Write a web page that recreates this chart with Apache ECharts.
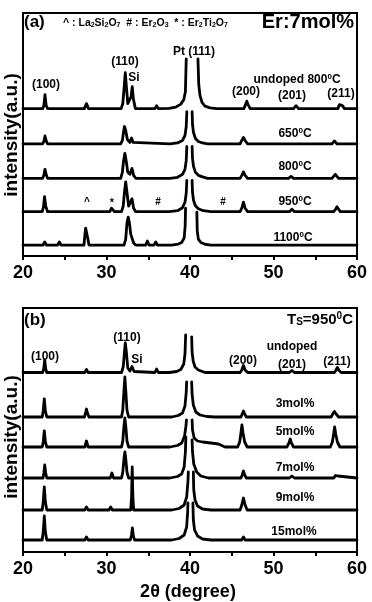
<!DOCTYPE html>
<html>
<head>
<meta charset="utf-8">
<script src="https://cdn.jsdelivr.net/npm/echarts@6/dist/echarts.min.js"></script>
<style>
  html, body { margin: 0; padding: 0; background: #fff; }
  #chart { width: 372px; height: 602px; }
</style>
</head>
<body>
<div id="chart"></div>
<script>
// x ticks (2theta, degree)
const xTicks = [20, 30, 40, 50, 60];

// (a) Er:7mol%, different annealing temperatures  [2theta, intensity a.u. (stacked)]
const a_undoped = [
  [20,148],[22.35,148],[22.5,151],[22.63,162],[22.78,151],[22.95,148],
  [27.35,148],[27.6,153],[27.85,148],
  [31.75,148],[31.95,153],[32.1,168],[32.25,184],[32.4,168],[32.55,153],[32.75,151],[32.95,160],[33.08,170],[33.22,158],[33.45,148],
  [35.8,148],[36.0,151],[36.2,148],
  [37.5,148.3],[38.3,149.5],[38.9,152.5],[39.25,157],[39.45,165],[39.55,198],[40.3,'-'],
  [40.95,198],[41.05,172],[41.2,161],[41.45,154],[41.8,150.5],[42.4,148.7],[43.2,148],
  [44.3,148],[44.5,150],[44.7,148],
  [46.45,148],[46.65,152],[46.8,155.5],[46.95,152],[47.2,148],
  [52.4,148],[52.7,151],[53.0,148],
  [57.7,148],[57.9,152],[58.05,154],[58.25,151],[58.5,148],[60,148]
];
const a_650 = [
  [20,112.5],[22.35,112.5],[22.5,115],[22.63,120.5],[22.8,115],[22.95,112.5],
  [27.4,112.5],[27.6,114],[27.8,112.5],
  [31.7,112.5],[31.9,116],[32.05,125],[32.15,130],[32.3,126],[32.5,117],[32.8,114],[33.0,118.5],[33.2,114],[33.4,112.5],
  [37.6,112.5],[38.5,113.5],[39.1,116],[39.4,121],[39.55,130],[39.62,145],[39.95,'-'],
  [40.25,145],[40.3,132],[40.42,124],[40.65,118],[41.0,115],[41.5,113.5],[42.1,112.5],
  [46.0,112.5],[46.2,116],[46.4,119],[46.6,116],[46.9,112.5],
  [51.8,112.5],[52.0,114.5],[52.3,112.5],
  [57.0,112.5],[57.3,115.5],[57.6,112.5],[60,112.5]
];
const a_800 = [
  [20,78],[22.35,78],[22.5,81],[22.63,87],[22.8,81],[22.95,78],
  [27.4,78],[27.6,79.5],[27.8,78],
  [31.7,78],[31.9,84],[32.05,96],[32.2,103],[32.35,96],[32.55,84],[32.8,82],[33.05,88],[33.25,81],[33.5,78],
  [37.6,78],[38.5,79],[39.1,82],[39.4,87],[39.55,96],[39.62,110],[39.95,'-'],
  [40.25,110],[40.3,98],[40.42,90],[40.65,84],[41.0,81],[41.5,79.5],[42.1,78],
  [46.0,78],[46.2,81],[46.4,84.5],[46.6,81],[46.9,78],
  [51.8,78],[52.1,80],[52.4,78],
  [57.0,78],[57.2,80],[57.4,82],[57.6,80],[57.8,78],[60,78]
];
const a_950 = [
  [20,44.5],[22.3,44.5],[22.45,49],[22.58,59.5],[22.72,50],[22.95,44.5],
  [27.4,44.5],[27.6,46.5],[27.8,44.5],
  [30.4,44.5],[30.6,48],[30.75,49.5],[30.95,44.5],
  [31.8,44.5],[32.0,50],[32.15,64],[32.3,74.5],[32.45,64],[32.65,50],[32.85,48],[33.05,57.5],[33.25,48],[33.5,44.5],
  [35.8,44.5],[36.0,46.5],[36.2,44.5],
  [37.5,44.5],[38.5,45.5],[39.1,48.5],[39.4,54],[39.55,63],[39.62,76],[39.95,'-'],
  [40.25,76],[40.3,64],[40.42,56],[40.65,50.5],[41.0,47.5],[41.6,45.5],[42.5,44.5],
  [43.8,44.5],[44.0,46],[44.2,44.5],
  [46.0,44.5],[46.2,48],[46.4,54],[46.6,48],[46.9,44.5],
  [51.9,44.5],[52.2,47],[52.5,44.5],
  [57.2,44.5],[57.45,47],[57.6,49.5],[57.8,47],[58.0,44.5],[60,44.5]
];
const a_1100 = [
  [20,11],[22.4,11],[22.6,14],[22.8,11],
  [24.15,11],[24.35,14],[24.55,11],
  [27.3,11],[27.4,20],[27.5,28],[27.65,28],[27.75,18],[27.9,11],
  [30.0,11],[30.2,12.5],[30.4,11],
  [32.1,11],[32.3,17],[32.45,33],[32.6,39],[32.75,33],[32.9,22],[33.05,21],[33.25,13],[33.5,11],
  [34.7,11],[34.9,15],[35.1,11],
  [35.7,11],[35.9,14],[36.1,11],
  [37.8,11],[38.6,12],[39.0,13.5],[39.3,18],[39.42,30],[39.47,48],[40.1,'-'],
  [40.82,44],[40.87,25],[41.0,17],[41.3,13.5],[41.8,11.8],[42.5,11],
  [44.3,11],[44.5,12.5],[44.7,11],
  [46.8,11],[47.0,13],[47.2,11],
  [57.1,11],[57.3,13],[57.5,11],
  [58.1,11],[58.3,12],[58.5,11],[60,11]
];

// (b) Ts=950C, different Er contents
const b_undoped = [
  [20,179.5],[22.35,179.5],[22.48,183],[22.6,192],[22.72,183],[22.85,179.5],
  [27.4,179.5],[27.6,182.5],[27.8,179.5],
  [31.8,179.5],[32.0,185],[32.15,200],[32.25,209],[32.38,200],[32.55,184],[32.8,181],[33.05,185.5],[33.3,180.5],[33.5,179.5],
  [35.8,179.5],[36.0,183],[36.2,179.5],
  [37.5,179.5],[38.4,180.5],[38.9,182.5],[39.25,188],[39.4,198],[39.48,217],[39.85,'-'],
  [40.2,215],[40.25,200],[40.38,191],[40.6,185],[41.0,182],[41.8,179.5],
  [44.3,179.5],[44.5,181],[44.7,179.5],
  [46.0,179.5],[46.2,182],[46.4,186.5],[46.6,182],[46.9,179.5],
  [51.9,179.5],[52.2,181.5],[52.5,179.5],
  [57.3,179.5],[57.5,182],[57.65,184.5],[57.85,181.5],[58.1,179.5],[60,179.5]
];
const b_3mol = [
  [20,135],[22.3,135],[22.42,141],[22.55,153],[22.68,141],[22.85,135],
  [27.35,135],[27.5,139],[27.6,143],[27.72,139],[27.9,135],
  [31.8,135],[31.95,142],[32.08,160],[32.2,175],[32.32,160],[32.45,142],[32.65,135],
  [37.8,135],[38.6,136.5],[39.1,139],[39.4,146],[39.55,160],[39.6,170],[39.9,'-'],
  [40.2,170],[40.25,158],[40.4,147],[40.7,140],[41.2,137],[42,135.5],[43,135],
  [46.1,135],[46.25,138],[46.4,141],[46.55,138],[46.75,135],
  [51.9,135],[52.1,136.5],[52.3,135],
  [56.9,135],[57.1,138],[57.3,140.5],[57.5,138],[57.8,135],[60,135]
];
const b_5mol = [
  [20,105],[22.3,105],[22.42,110],[22.55,121],[22.68,110],[22.85,105],
  [27.4,105],[27.6,111],[27.8,105],
  [29.0,105],[29.2,107],[29.4,105],
  [31.8,105],[31.95,111],[32.08,125],[32.2,134],[32.32,125],[32.45,111],[32.65,105],
  [37.6,105],[38.5,106.5],[39.0,109],[39.35,116],[39.5,125],[39.58,132],[39.9,'-'],
  [40.25,132],[40.3,122],[40.5,114],[40.9,111],[41.5,110],[42.5,109],[43.4,108],[44.2,105],
  [45.7,105],[45.95,110],[46.1,119],[46.22,127],[46.35,119],[46.55,110],[46.85,105],
  [51.6,105],[51.85,109],[52.0,113],[52.15,109],[52.4,105],
  [56.8,105],[57.05,110],[57.2,118],[57.32,125],[57.45,118],[57.65,110],[57.95,105],[60,105]
];
const b_7mol = [
  [20,74],[22.4,74],[22.5,79],[22.6,87],[22.72,79],[22.85,74],
  [27.4,74],[27.6,76],[27.8,74],
  [30.45,74],[30.65,79],[30.85,74],
  [31.8,74],[31.95,80],[32.08,92],[32.2,100],[32.32,92],[32.45,80],[32.65,74],
  [35.8,74],[36.0,75.5],[36.2,74],
  [37.6,74],[38.5,75.5],[39.0,78],[39.3,85],[39.45,100],[39.5,115],[39.85,'-'],
  [40.25,112],[40.3,100],[40.45,88],[40.8,80],[41.3,76],[42.2,74],
  [46.1,74],[46.25,77],[46.4,81],[46.55,77],[46.75,74],
  [51.9,74],[52.2,76],[52.5,74],
  [57.2,74],[57.45,76.5],[57.55,78],[57.7,76],[57.9,74],[60,74]
];
const b_9mol = [
  [20,42],[22.3,42],[22.42,50],[22.55,65],[22.68,50],[22.85,42],
  [27.4,42],[27.6,45],[27.8,42],
  [30.3,42],[30.5,45],[30.7,42],
  [31.85,42],[32.0,44],[32.15,42],
  [32.9,42],[33.0,55],[33.08,85],[33.16,55],[33.25,42],
  [37.8,42],[38.7,43.5],[39.3,47],[39.6,55],[39.75,70],[39.8,80],[40.1,'-'],
  [40.4,80],[40.45,62],[40.6,52],[40.9,46],[41.5,43],[42.5,42],
  [46.0,42],[46.2,47],[46.4,54],[46.6,47],[46.85,42],[60,42]
];
const b_15mol = [
  [20,12],[22.3,12],[22.42,20],[22.55,36],[22.68,20],[22.85,12],
  [27.4,12],[27.6,15],[27.8,12],
  [30.4,12],[30.6,14],[30.8,12],
  [31.8,12],[32.0,13],[32.2,12],
  [32.85,12],[33.0,17],[33.1,24],[33.2,17],[33.35,12],
  [37.8,12],[38.7,13.5],[39.3,17],[39.6,25],[39.72,40],[39.75,49],[40.05,'-'],
  [40.35,49],[40.4,32],[40.55,22],[40.9,16],[41.5,13],[42.5,12],
  [46.2,12],[46.4,15],[46.6,12],[60,12]
];

const seriesA = [a_undoped, a_650, a_800, a_950, a_1100];
const seriesB = [b_undoped, b_3mol, b_5mol, b_7mol, b_9mol, b_15mol];

const FONT = '"Liberation Sans", Arial, sans-serif';
const rich = {
  sup: { fontSize: 8, fontWeight: 'bold', fontFamily: FONT, verticalAlign: 'bottom', lineHeight: 8, padding: [0, 0, 5, 0], fill: '#000' },
  sub: { fontSize: 7, fontWeight: 'bold', fontFamily: FONT, verticalAlign: 'bottom', fill: '#000' },
  sup2: { fontSize: 10, fontWeight: 'bold', fontFamily: FONT, verticalAlign: 'bottom', lineHeight: 10, padding: [0, 0, 6, 0], fill: '#000' },
  sub2: { fontSize: 10, fontWeight: 'bold', fontFamily: FONT, verticalAlign: 'bottom', fill: '#000' }
};

function txt(x, y, text, size, align, rot) {
  return {
    type: 'text', x: x, y: y, rotation: rot || 0, z: 100,
    style: {
      text: text, fill: '#000', fontSize: size, fontWeight: 'bold', fontFamily: FONT,
      align: align || 'center', verticalAlign: 'middle',
      textAlign: align || 'center', textVerticalAlign: 'middle',
      rich: rich
    }
  };
}

function xAx(idx) {
  return {
    type: 'value', gridIndex: idx, min: 20, max: 60, interval: 5,
    axisLine: { show: true, lineStyle: { color: '#000', width: 2 } },
    axisTick: { show: true, inside: false, length: 4, lineStyle: { color: '#000', width: 2 } },
    axisLabel: {
      color: '#000', fontSize: 18, fontWeight: 'bold', fontFamily: FONT, margin: 8,
      formatter: function (v) { return xTicks.indexOf(v) >= 0 ? String(v) : ''; }
    },
    splitLine: { show: false }
  };
}
function yAx(idx) {
  return {
    type: 'value', gridIndex: idx, min: 0, max: 244,
    axisLine: { show: false }, axisTick: { show: false },
    axisLabel: { show: false }, splitLine: { show: false }
  };
}

function mk(data, idx) {
  return {
    type: 'line', xAxisIndex: idx, yAxisIndex: idx, data: data,
    symbol: 'none', connectNulls: false, animation: false,
    lineStyle: { color: '#000', width: 2.8, join: 'round', cap: 'round' }
  };
}

const chart = echarts.init(document.getElementById('chart'));
chart.setOption({
  backgroundColor: '#fff',
  animation: false,
  grid: [
    { left: 23, top: 13, width: 334, height: 243, show: true, borderColor: '#000', borderWidth: 2, backgroundColor: 'transparent' },
    { left: 23, top: 308, width: 334, height: 244, show: true, borderColor: '#000', borderWidth: 2, backgroundColor: 'transparent' }
  ],
  xAxis: [xAx(0), xAx(1)],
  yAxis: [yAx(0), yAx(1)],
  series: seriesA.map(d => mk(d, 0)).concat(seriesB.map(d => mk(d, 1))),
  graphic: [
    // panel a
    txt(24, 22, '(a)', 17, 'left'),
    txt(63, 23, '^ : La{sub|2}Si{sub|2}O{sub|7}  # : Er{sub|2}O{sub|3}  * : Er{sub|2}Ti{sub|2}O{sub|7}', 10.5, 'left'),
    txt(354, 22, 'Er:7mol%', 20, 'right'),
    txt(46, 85, '(100)', 12),
    txt(125, 62, '(110)', 12),
    txt(134, 78, 'Si', 12),
    txt(173, 52, 'Pt (111)', 12, 'left'),
    txt(297, 80, 'undoped 800{sup|0}C', 12),
    txt(246, 92, '(200)', 12),
    txt(292, 96, '(201)', 12),
    txt(341, 94, '(211)', 12),
    txt(295, 134, '650{sup|0}C', 12),
    txt(295, 167, '800{sup|0}C', 12),
    txt(295, 202, '950{sup|0}C', 12),
    txt(293, 238, '1100{sup|0}C', 12),
    txt(87, 202, '^', 10),
    txt(112, 203, '*', 11),
    txt(158, 202, '#', 10),
    txt(223, 202, '#', 10),
    // panel b
    txt(24, 320, '(b)', 17, 'left'),
    txt(353, 320, 'T{sub2|S}=950{sup2|0}C', 15, 'right'),
    txt(127, 338, '(110)', 12),
    txt(45, 357, '(100)', 12),
    txt(137, 360, 'Si', 12),
    txt(243, 361, '(200)', 12),
    txt(292, 347, 'undoped', 12),
    txt(292, 365, '(201)', 12),
    txt(337, 362, '(211)', 12),
    txt(295, 404, '3mol%', 12),
    txt(295, 432, '5mol%', 12),
    txt(295, 468, '7mol%', 12),
    txt(295, 498, '9mol%', 12),
    txt(294, 532, '15mol%', 12),
    // axis titles
    txt(12, 135, 'intensity(a.u.)', 19, 'center', Math.PI / 2),
    txt(12, 437, 'intensity(a.u.)', 19, 'center', Math.PI / 2),
    txt(188, 592, '2\u03b8 (degree)', 18)
  ]
});
</script>
</body>
</html>
